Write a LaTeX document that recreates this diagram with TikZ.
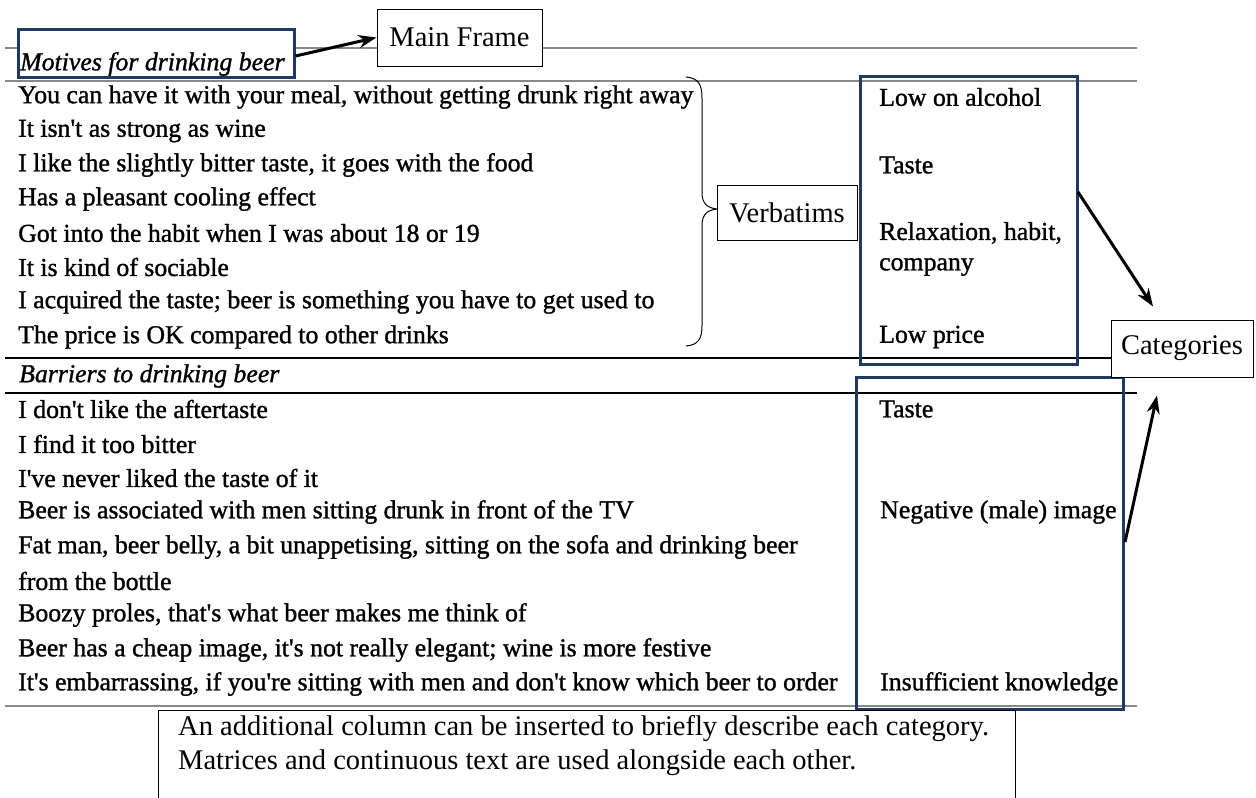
\documentclass[tikz,border=0pt]{standalone}
\usepackage{fontspec}
\setmainfont{Liberation Serif}[Ligatures=TeXOff]
\newfontfamily\tablefont{Liberation Serif}[Ligatures=TeXOff,FakeBold=1.2]
\usetikzlibrary{arrows.meta,calc}
\definecolor{navy}{HTML}{1F3864}
\definecolor{rulegray}{HTML}{888888}

\begin{document}
\begin{tikzpicture}[x=1pt,y=-1pt,
  row/.style={anchor=west,inner sep=0pt,font=\tablefont\fontsize{25.8}{30}\selectfont},
  headrow/.style={anchor=west,inner sep=0pt,font=\tablefont\fontsize{25.8}{30}\selectfont\itshape},
  note/.style={anchor=west,inner sep=0pt,font=\fontsize{28.5}{34}\selectfont},
  tag/.style={draw=black,fill=white,line width=1pt,inner sep=0pt,
    font=\fontsize{28.5}{34}\selectfont},
  navybox/.style={draw=navy,line width=3pt,inner sep=0pt},
  grayrule/.style={draw=rulegray,line width=2pt},
  blackrule/.style={draw=black,line width=2pt},
  pointer/.style={-{Stealth[length=18pt,width=13pt]},line width=3pt}]

\useasboundingbox (0,0) rectangle (1256,798);
\clip (0,0) rectangle (1256,798);

% table rules
\draw[grayrule]  (5,48)    -- (1137,48);
\draw[grayrule]  (5,81)    -- (1137,81);
\draw[blackrule] (5,357.5) -- (1137,357.5);
\draw[blackrule] (5,393)   -- (1137,393);
\draw[grayrule]  (5,706)   -- (1137,706);

% section heading box of the first frame
\node[navybox,fill=white,minimum width=276pt,minimum height=48pt] (framebox) at (156,53) {};
\node[headrow] (motives) at (20,64) {Motives for drinking beer};

% verbatims, first frame
\foreach \y/\t [count=\i] in {
  97/{You can have it with your meal, without getting drunk right away},
  131/{It isn't as strong as wine},
  165/{I like the slightly bitter taste, it goes with the food},
  199/{Has a pleasant cooling effect},
  233/{Got into the habit when I was about 18 or 19},
  267/{It is kind of sociable},
  302/{I acquired the taste; beer is something you have to get used to},
  337/{The price is OK compared to other drinks}}
  \node[row] (m\i) at (18,\y) {\t};

\node[headrow] (barriers) at (19,376) {Barriers to drinking beer};

% verbatims, second frame
\foreach \y/\t [count=\i] in {
  409/{I don't like the aftertaste},
  444/{I find it too bitter},
  478/{I've never liked the taste of it},
  512/{Beer is associated with men sitting drunk in front of the TV},
  547/{Fat man, beer belly, a bit unappetising, sitting on the sofa and drinking beer},
  581/{from the bottle},
  615/{Boozy proles, that's what beer makes me think of},
  650/{Beer has a cheap image, it's not really elegant; wine is more festive},
  684/{It's embarrassing, if you're sitting with men and don't know which beer to order}}
  \node[row] (b\i) at (18,\y) {\t};

% category column
\node[row] (c1) at (879,97)  {Low on alcohol};
\node[row] (c2) at (879,165) {Taste};
\node[row] (c3) at (879,233) {Relaxation, habit,};
\node[row] (c4) at (879,267) {company};
\node[row] (c5) at (879,337) {Low price};
\node[row] (d1) at (879,409) {Taste};
\node[row] (d2) at (880,512) {Negative (male) image};
\node[row] (d3) at (880,684) {Insufficient knowledge};

% category frames
\node[navybox,minimum width=217pt,minimum height=288pt] (upcat) at (968.5,220) {};
\node[navybox,minimum width=267pt,minimum height=332pt] (lowcat) at (989.5,543) {};

% brace grouping the verbatims
\draw[line width=1pt] (686,77) .. controls (698,78) and (702,84) .. (702,98)
  -- (702,193) .. controls (702,204) and (708,208) .. (717,209)
  .. controls (708,210) and (702,214) .. (702,225)
  -- (702,326) .. controls (702,339) and (698,345) .. (686,346);

% call-out labels
\node[tag,minimum width=165pt,minimum height=57pt] (mainframe) at (459.5,37.5) {Main Frame};
\node[tag,minimum width=140pt,minimum height=55pt] (verbatims) at (787,212.5) {Verbatims};
\node[tag,minimum width=142pt,minimum height=57pt] (categories) at (1182,348.5) {Categories};

% pointers
\coordinate (upstart) at (1078,192);
\coordinate (uptip) at ($(categories.north)+(-29,-13)$);
\coordinate (lowstart) at (1125,542);
\coordinate (lowtip) at ($(categories.south)+(-25,18)$);
\draw[pointer] ($(framebox.east)+(0,3)$) -- (mainframe.west);
\draw[pointer] (upstart) -- (uptip);
\draw[pointer] (lowstart) -- (lowtip);

% explanatory note
\draw[line width=1pt] (158,810) -- (158,710) -- (1015,710) -- (1015,810);
\node[note] (n1) at (178,729) {An additional column can be inserted to briefly describe each category.};
\node[note] (n2) at (178,763) {Matrices and continuous text are used alongside each other.};
\end{tikzpicture}
\end{document}
